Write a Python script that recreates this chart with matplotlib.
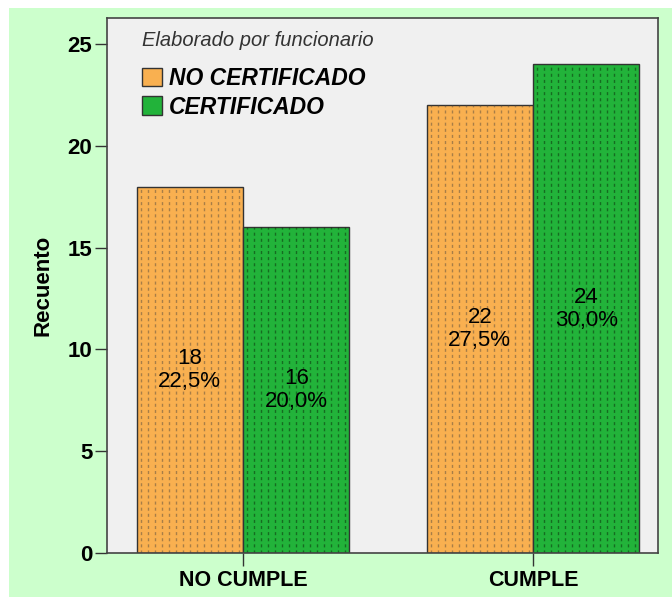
import matplotlib
matplotlib.use("Agg")
import matplotlib.pyplot as plt
from matplotlib.patches import Rectangle, Patch
from matplotlib.collections import LineCollection
import numpy as np

categories = ["NO CUMPLE", "CUMPLE"]
series_names = ["NO CERTIFICADO", "CERTIFICADO"]
no_cert = [18, 22]
cert = [16, 24]
no_cert_pct = ["22,5%", "27,5%"]
cert_pct = ["20,0%", "30,0%"]
yticks = [0, 5, 10, 15, 20, 25]
legend_title = "Elaborado por funcionario"
ylabel = "Recuento"

plt.rcParams['font.family'] = ['Liberation Sans', 'DejaVu Sans']

fig = plt.figure(figsize=(6.72, 5.99), dpi=100)
fig.patch.set_facecolor('white')
bg = Rectangle((9/672, 1-597/599), 1, 589/599, transform=fig.transFigure,
               facecolor='#CCFFCC', edgecolor='none', zorder=-10)
fig.add_artist(bg)

ax = fig.add_axes([107/672, 1-553/599, (658-107)/672, (553-18)/599])
ax.set_zorder(1)
ax.set_facecolor('#F0F0F0')

x = np.arange(len(categories))
w = 0.367
orange = '#F9B050'
green = '#22B33A'

ax.set_xlim(-0.469, 1.431)
ax.set_ylim(0, 26.28)

b1 = ax.bar(x - w/2, no_cert, w, color=orange, edgecolor='#333333', linewidth=1.0, zorder=2)
b2 = ax.bar(x + w/2, cert, w, color=green, edgecolor='#333333', linewidth=1.0, zorder=2)


def dotted_fill(bar, color):
    # vertical dotted texture inside a bar, spaced in pixels
    bx, by = bar.get_x(), bar.get_y()
    bw, bh = bar.get_width(), bar.get_height()
    step = 7.0 / (ax.bbox.width / (ax.get_xlim()[1] - ax.get_xlim()[0]))
    xs = np.arange(bx + step * 0.6, bx + bw, step)
    segs = [[(xx, by), (xx, by + bh)] for xx in xs]
    lc = LineCollection(segs, colors=color, linewidths=1.0,
                        linestyles=[(0, (2.2, 2.2))], zorder=2.5)
    ax.add_collection(lc)
    lc.set_clip_path(bar)


for b in b1:
    dotted_fill(b, (0.35, 0.3, 0.25, 0.5))
for b in b2:
    dotted_fill(b, (0.05, 0.2, 0.05, 0.55))

for i in range(len(categories)):
    ax.text(x[i] - w/2, no_cert[i]/2, f"{no_cert[i]}\n{no_cert_pct[i]}", ha='center', va='center',
            fontsize=16, linespacing=1.1, color='black', zorder=3)
    ax.text(x[i] + w/2, cert[i]/2, f"{cert[i]}\n{cert_pct[i]}", ha='center', va='center',
            fontsize=16, linespacing=1.1, color='black', zorder=3)

ax.set_yticks(yticks)
ax.set_yticklabels([str(t) for t in yticks], fontsize=16, fontweight='bold')
ax.set_xticks(x)
ax.set_xticklabels(categories, fontsize=15.5, fontweight='bold')
ax.tick_params(axis='y', length=9, width=1, color='#333333', pad=1.5)
ax.tick_params(axis='x', length=9.5, width=1, color='#333333', pad=3)
for s in ax.spines.values():
    s.set_color('#444444')
    s.set_linewidth(1.2)

ax.set_ylabel(ylabel, fontsize=16, fontweight='bold', labelpad=10)

handles = [Patch(facecolor=orange, edgecolor='#333333'),
           Patch(facecolor=green, edgecolor='#333333')]
leg = ax.legend(handles, series_names, title=legend_title, loc='upper left',
                bbox_to_anchor=(0.035, 1.005), frameon=False,
                prop={'size': 16.5, 'weight': 'bold', 'style': 'italic'},
                handlelength=0.88, handleheight=0.88, handletextpad=0.3,
                labelspacing=0.25, borderpad=0.2)
leg.get_title().set_fontsize(14.5)
leg.get_title().set_fontstyle('italic')
leg.get_title().set_color('#333333')
leg._legend_box.align = 'left'
leg._legend_box.sep = 12
leg.set_zorder(5)

fig.savefig('out.png', dpi=100)
